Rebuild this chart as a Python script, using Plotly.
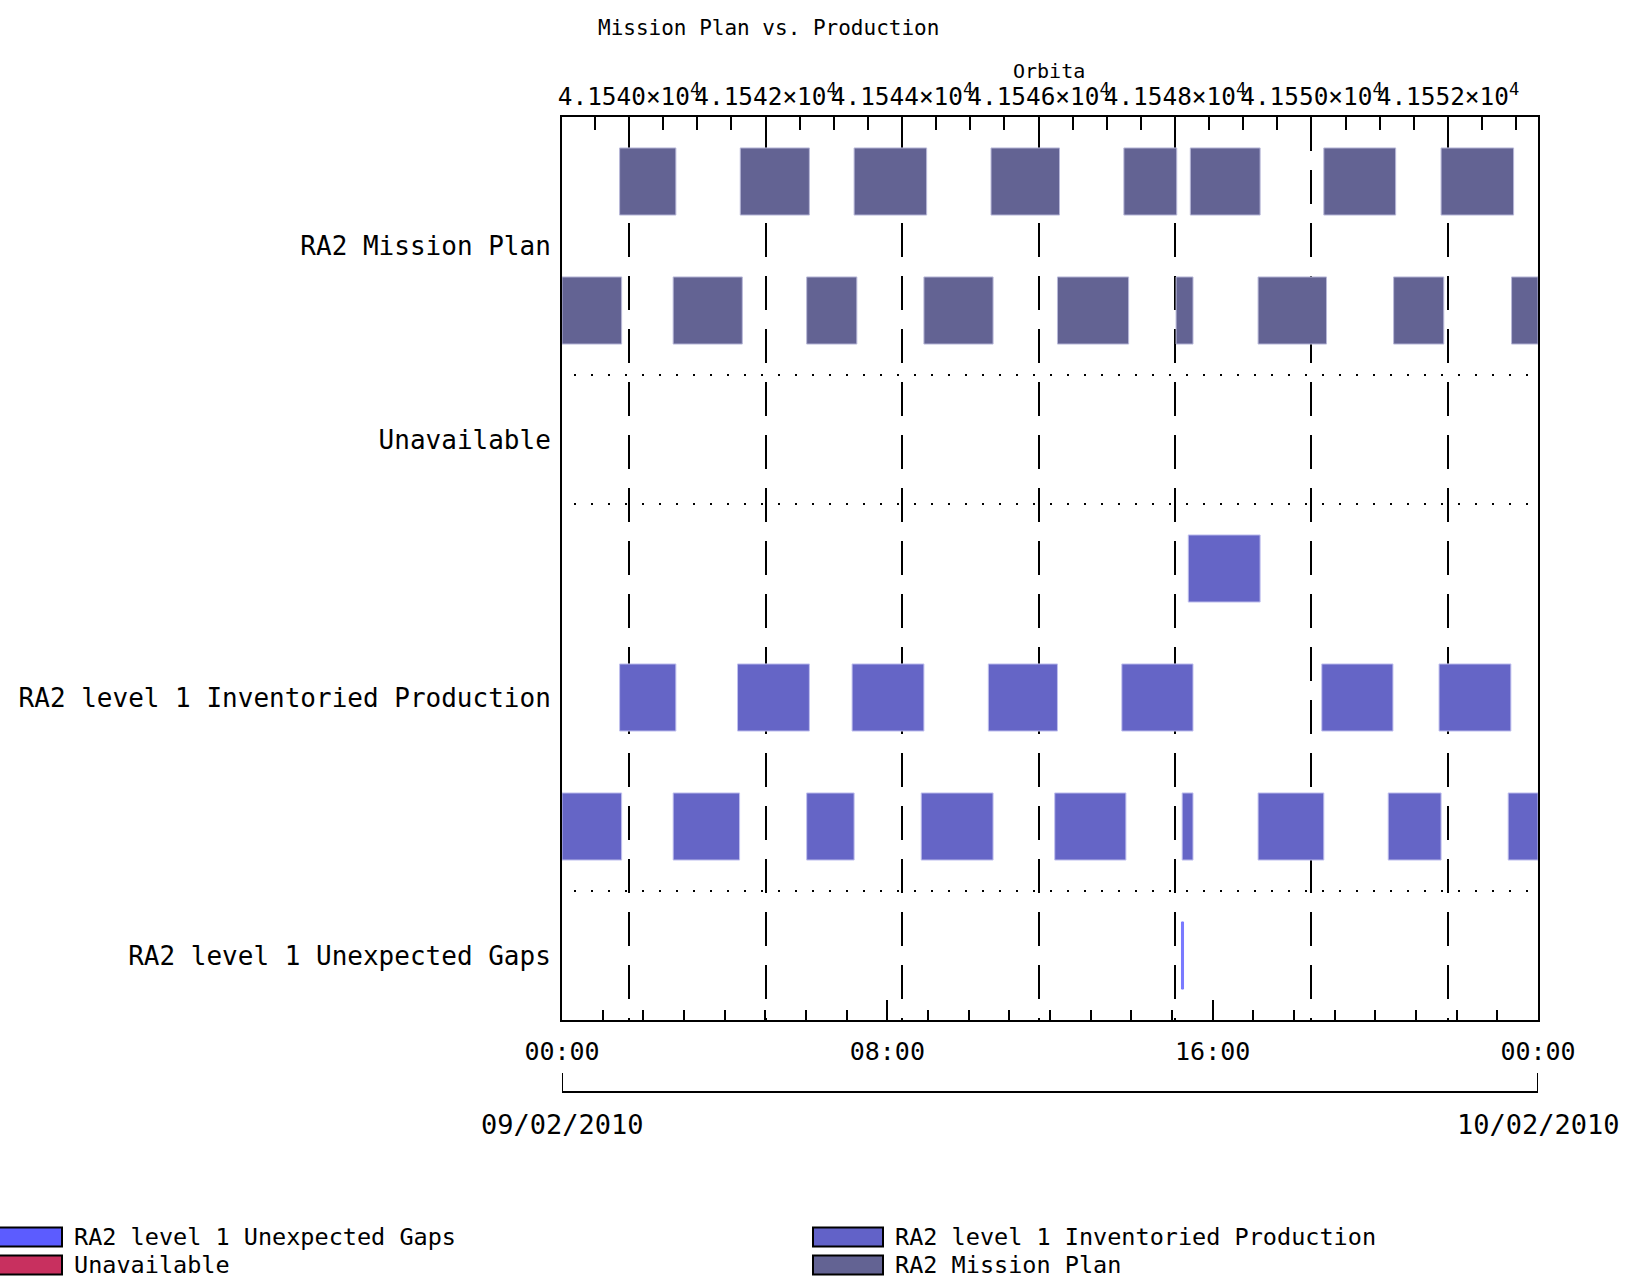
import plotly.graph_objects as go
import pandas as pd

# ---------------- data ----------------
day0 = "2010-02-09"
lane_names = ["RA2 Mission Plan", "Unavailable",
              "RA2 level 1 Inventoried Production", "RA2 level 1 Unexpected Gaps"]
label_pos = [1.0, 2.5, 4.5, 6.5]
separators = [2, 3, 6]

plan_lane = [0] * 8 + [1] * 9
plan_start = ["01:25", "04:23", "07:11", "10:33", "13:49", "15:27", "18:44", "21:37",
              "00:00", "02:44", "06:01", "08:54", "12:11", "15:06", "17:07", "20:27", "23:21"]
plan_end = ["02:48", "06:05", "08:58", "12:14", "15:07", "17:10", "20:30", "23:24",
            "01:28", "04:26", "07:15", "10:36", "13:56", "15:31", "18:48", "21:41", "24:00"]

unavail_lane = []
unavail_start = []
unavail_end = []

inv_lane = [3] + [4] * 7 + [5] * 9
inv_start = ["15:24",
             "01:25", "04:19", "07:08", "10:29", "13:46", "18:41", "21:34",
             "00:00", "02:44", "06:01", "08:50", "12:07", "15:15", "17:07", "20:19", "23:16"]
inv_end = ["17:10",
           "02:48", "06:05", "08:54", "12:11", "15:31", "20:26", "23:20",
           "01:28", "04:22", "07:11", "10:36", "13:52", "15:31", "18:44", "21:37", "24:00"]

gap_lane = [6]
gap_start = ["15:14"]
gap_end = ["15:17"]

time_tickvals = ["2010-02-09 00:00", "2010-02-09 08:00", "2010-02-09 16:00", "2010-02-10 00:00"]
time_ticktext = ["00:00", "08:00", "16:00", "00:00"]
date_labels = ["09/02/2010", "10/02/2010"]

orbit_ticks = [41540, 41542, 41544, 41546, 41548, 41550, 41552]
orbit_ticktext = ["4.1540×10<sup>4</sup>", "4.1542×10<sup>4</sup>", "4.1544×10<sup>4</sup>",
                  "4.1546×10<sup>4</sup>", "4.1548×10<sup>4</sup>", "4.1550×10<sup>4</sup>",
                  "4.1552×10<sup>4</sup>"]
orbit_range = [41539.018, 41553.319]

# ---------------- styling / layout ----------------
FONT = "DejaVu Sans Mono"
W, H = 1630, 1281
L, R, T, B = 562, 92, 117, 261
PW, PH = W - L - R, H - T - B

c_plan = "#636393"
c_inv = "#6565c6"
c_gap = "#7a7aff"
c_unav = "#c8305f"


def px_x(px):
    return (px - L) / PW


def px_y(py):
    return (H - B - py) / PH


T0 = pd.Timestamp(day0)


def to_td(s):
    if len(s) == 5:
        s = s + ":00"
    return pd.to_timedelta(s)


def bar_trace(lanes, starts, ends, color, lcolor, name):
    base = [(T0 + to_td(s)).strftime("%Y-%m-%d %H:%M:%S") for s in starts]
    dur = [(to_td(e) - to_td(s)).total_seconds() * 1000 for s, e in zip(starts, ends)]
    return go.Bar(orientation="h", y=[l + 0.5 for l in lanes], base=base, x=dur,
                  width=0.52, name=name, showlegend=False,
                  marker=dict(color=color, line=dict(color=lcolor, width=1)),
                  hoverinfo="skip")


fig = go.Figure()
fig.add_trace(go.Scatter(x=orbit_ticks, y=[0] * len(orbit_ticks), xaxis="x2", yaxis="y",
                         mode="markers", marker=dict(opacity=0), showlegend=False,
                         hoverinfo="skip"))
fig.add_trace(bar_trace(plan_lane, plan_start, plan_end, c_plan, "#b8b8d8", "RA2 Mission Plan"))
fig.add_trace(bar_trace(unavail_lane, unavail_start, unavail_end, c_unav, c_unav, "Unavailable"))
fig.add_trace(bar_trace(inv_lane, inv_start, inv_end, c_inv, "#c0c0ee",
                        "RA2 level 1 Inventoried Production"))
fig.add_trace(bar_trace(gap_lane, gap_start, gap_end, c_gap, c_gap,
                        "RA2 level 1 Unexpected Gaps"))

shapes = []
for s in separators:
    shapes.append(dict(type="line", xref="paper", yref="y", x0=px_x(574), x1=px_x(1530),
                       y0=s, y1=s, layer="below",
                       line=dict(color="black", width=2, dash="2px,15px")))
# date bracket
shapes.append(dict(type="line", xref="x", yref="paper", x0=time_tickvals[0], x1=time_tickvals[-1],
                   y0=px_y(1092), y1=px_y(1092), line=dict(color="black", width=2)))
for tv in (time_tickvals[0], time_tickvals[-1]):
    shapes.append(dict(type="line", xref="x", yref="paper", x0=tv, x1=tv,
                       y0=px_y(1073), y1=px_y(1092), line=dict(color="black", width=2)))

annotations = [
    dict(text="Mission Plan vs. Production", xref="paper", yref="paper", x=px_x(768), y=px_y(28),
         showarrow=False, font=dict(size=21), xanchor="center", yanchor="middle"),
    dict(text="Orbita", xref="paper", yref="paper", x=px_x(1049), y=px_y(71),
         showarrow=False, font=dict(size=20), xanchor="center", yanchor="middle"),
    dict(text=date_labels[0], xref="x", yref="paper", x=time_tickvals[0], y=px_y(1124),
         showarrow=False, font=dict(size=27), xanchor="center", yanchor="middle"),
    dict(text=date_labels[1], xref="x", yref="paper", x=time_tickvals[-1], y=px_y(1124),
         showarrow=False, font=dict(size=27), xanchor="center", yanchor="middle"),
]

# manual legend
legend_items = [
    ("RA2 level 1 Unexpected Gaps", "#5c5cff", -10, 62, 72, 1237),
    ("Unavailable", c_unav, -10, 62, 72, 1265),
    ("RA2 level 1 Inventoried Production", "#6262c8", 813, 883, 893, 1237),
    ("RA2 Mission Plan", c_plan, 813, 883, 893, 1265),
]
for name, col, sx0, sx1, tx, cy in legend_items:
    shapes.append(dict(type="rect", xref="paper", yref="paper", x0=px_x(sx0), x1=px_x(sx1),
                       y0=px_y(cy + 9.5), y1=px_y(cy - 9.5), fillcolor=col,
                       line=dict(color="black", width=2)))
    annotations.append(dict(text=name, xref="paper", yref="paper", x=px_x(tx), y=px_y(cy),
                            showarrow=False, font=dict(size=23.5), xanchor="left",
                            yanchor="middle"))

fig.update_layout(
    width=W, height=H,
    margin=dict(l=L, r=R, t=T, b=B, pad=0),
    paper_bgcolor="white", plot_bgcolor="white",
    font=dict(family=FONT, color="black"),
    barmode="overlay",
    showlegend=False,
    shapes=shapes,
    annotations=annotations,
    xaxis=dict(type="date", range=[time_tickvals[0], time_tickvals[-1]],
               tickmode="array", tickvals=time_tickvals, ticktext=time_ticktext,
               ticks="inside", ticklen=20, tickwidth=2, tickcolor="black",
               minor=dict(ticks="inside", ticklen=10, tickwidth=2, tickcolor="black",
                          dtick=3600000, tick0=time_tickvals[0], showgrid=False),
               showline=True, linewidth=2, linecolor="black", showgrid=False,
               zeroline=False, tickfont=dict(size=25), ticklabelstandoff=8, tickangle=0),
    xaxis2=dict(overlaying="x", side="top", anchor="y", range=orbit_range,
                tickmode="array", tickvals=orbit_ticks, ticktext=orbit_ticktext,
                ticks="inside", ticklen=14, tickwidth=2, tickcolor="black",
                minor=dict(ticks="inside", ticklen=13, tickwidth=2, tickcolor="black",
                           dtick=0.5, tick0=41540, showgrid=False),
                showgrid=True, gridcolor="black", gridwidth=2, griddash="34px,19px",
                showline=True, linewidth=2, linecolor="black", zeroline=False,
                tickangle=0, tickfont=dict(size=24.4)),
    yaxis=dict(range=[7, 0], tickmode="array", tickvals=label_pos, ticktext=lane_names,
               ticks="", showgrid=False, zeroline=False, showline=True, mirror=True,
               linewidth=2, linecolor="black", tickfont=dict(size=26),
               ticklabelstandoff=4),
)

fig.write_html("out.html", config={"displayModeBar": False},
               post_script="document.body.style.margin='0';document.body.style.overflow='hidden';")
